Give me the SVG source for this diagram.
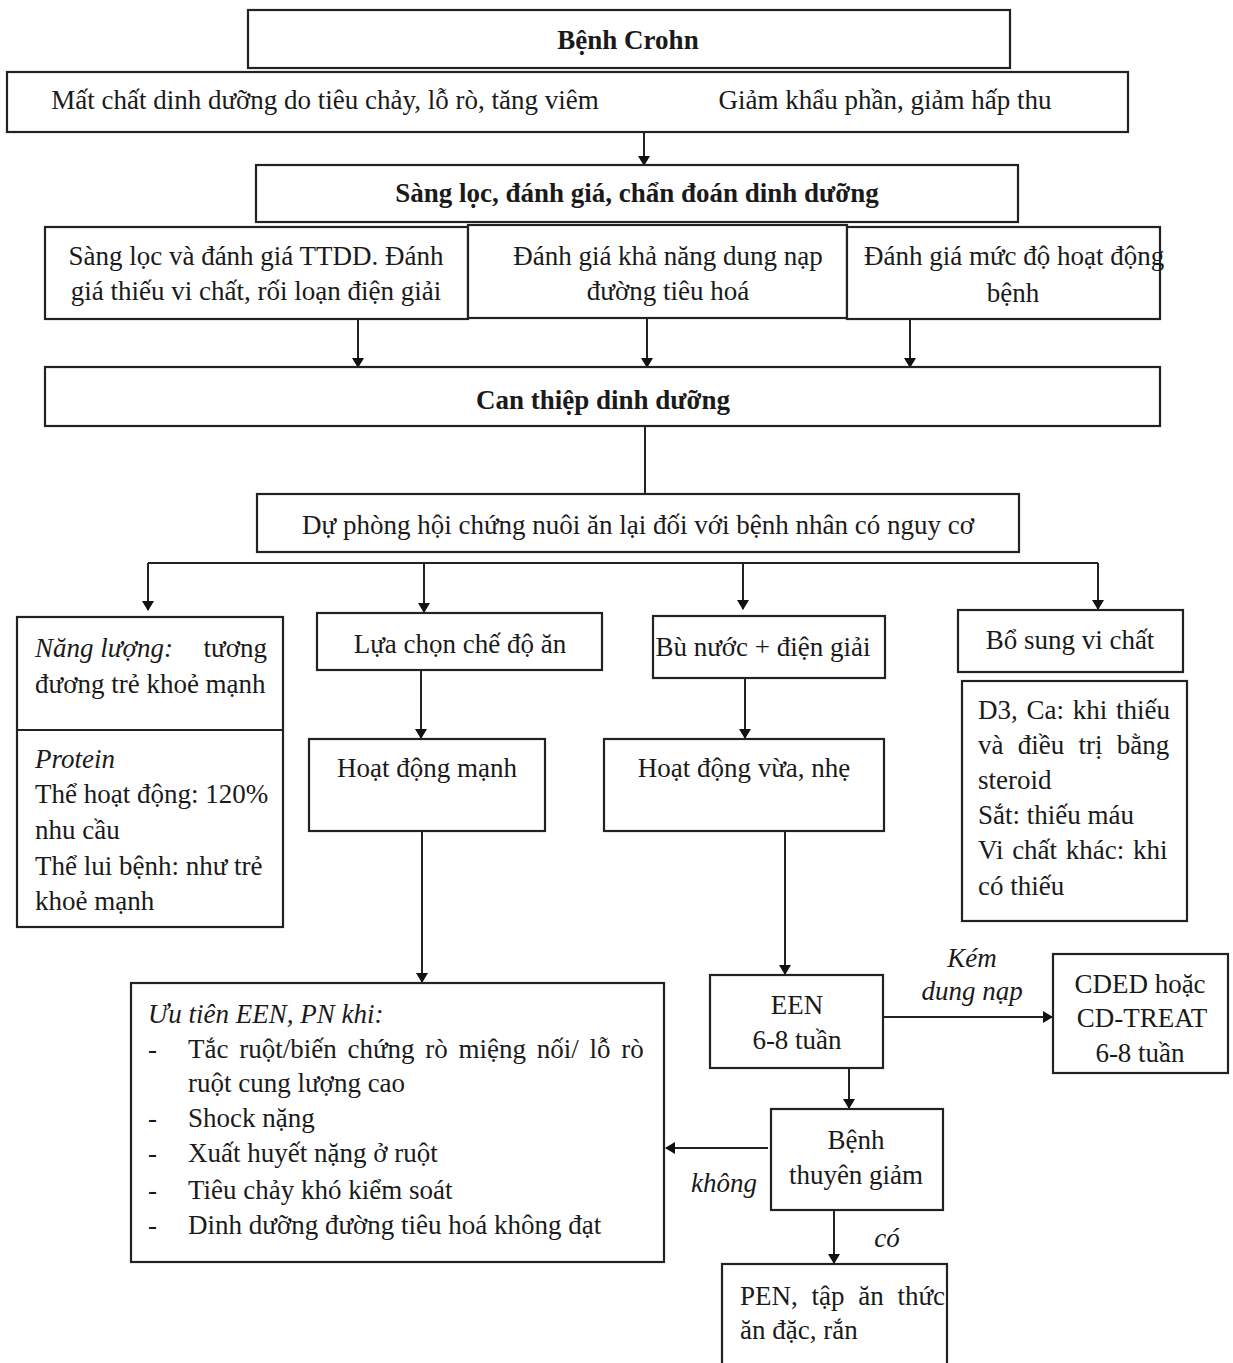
<svg xmlns="http://www.w3.org/2000/svg" width="1233" height="1363" viewBox="0 0 1233 1363">
<defs>
<marker id="arr" markerWidth="10" markerHeight="12" refX="9" refY="6" orient="auto" markerUnits="userSpaceOnUse">
<path d="M0,0 L10,6 L0,12 Z" fill="#111"/>
</marker>
<style>
.b{fill:#fff;stroke:#222;stroke-width:2.2}
.t{font-family:"Liberation Serif","Times New Roman",serif;font-size:27px;fill:#1a1a1a}
.c{text-anchor:middle}
.bd{font-weight:bold}
.i{font-style:italic}
.l{stroke:#222;stroke-width:2;fill:none}
.la{stroke:#222;stroke-width:2;fill:none;marker-end:url(#arr)}
</style>
</defs>
<rect width="1233" height="1363" fill="#fff"/>

<g id="connectors">
<line class="la" x1="644" y1="72" x2="644" y2="165"/>
<line class="la" x1="358" y1="320" x2="358" y2="367"/>
<line class="la" x1="647" y1="319" x2="647" y2="367"/>
<line class="la" x1="910" y1="320" x2="910" y2="367"/>
<line class="l" x1="645" y1="426" x2="645" y2="494"/>
<line class="l" x1="148" y1="563" x2="1098" y2="563"/>
<line class="la" x1="148" y1="563" x2="148" y2="610"/>
<line class="la" x1="424" y1="563" x2="424" y2="612"/>
<line class="la" x1="743" y1="563" x2="743" y2="609"/>
<line class="la" x1="1098" y1="563" x2="1098" y2="609"/>
<line class="la" x1="421" y1="670" x2="421" y2="738"/>
<line class="la" x1="745" y1="678" x2="745" y2="738"/>
<line class="la" x1="422" y1="831" x2="422" y2="982"/>
<line class="la" x1="785" y1="831" x2="785" y2="974"/>
<line class="la" x1="884" y1="1017" x2="1052" y2="1017"/>
<line class="la" x1="849" y1="1068" x2="849" y2="1108"/>
<line class="la" x1="768" y1="1148" x2="666" y2="1148"/>
<line class="la" x1="834" y1="1210" x2="834" y2="1263"/>
<text class="t i c" x="972" y="967" font-size="23">Kém</text>
<text class="t i c" x="972" y="1000" font-size="23">dung nạp</text>
<text class="t i c" x="724" y="1192" font-size="23">không</text>
<text class="t i c" x="887" y="1247" font-size="23">có</text>
</g>

<g id="n-crohn">
<rect class="b" x="248" y="10" width="762" height="58"/>
<text class="t c bd" x="628" y="49">Bệnh Crohn</text>
</g>

<g id="n-causes">
<rect class="b" x="7" y="72" width="1121" height="60"/>
<text class="t c" x="325" y="109">Mất chất dinh dưỡng do tiêu chảy, lỗ rò, tăng viêm</text>
<text class="t c" x="885" y="109">Giảm khẩu phần, giảm hấp thu</text>
</g>

<g id="n-screen">
<rect class="b" x="256" y="165" width="762" height="57"/>
<text class="t c bd" x="637" y="202">Sàng lọc, đánh giá, chẩn đoán dinh dưỡng</text>
</g>

<g id="n-screen1">
<rect class="b" x="45" y="227" width="423" height="92"/>
<text class="t c" x="256" y="265">Sàng lọc và đánh giá TTDD. Đánh</text>
<text class="t c" x="256" y="300">giá thiếu vi chất, rối loạn điện giải</text>
</g>

<g id="n-screen2">
<rect class="b" x="468" y="225" width="379" height="93"/>
<text class="t c" x="668" y="265">Đánh giá khả năng dung nạp</text>
<text class="t c" x="668" y="300">đường tiêu hoá</text>
</g>

<g id="n-screen3">
<rect class="b" x="847" y="227" width="313" height="92"/>
<text class="t" x="864" y="265">Đánh giá mức độ hoạt động</text>
<text class="t c" x="1013" y="302">bệnh</text>
</g>

<g id="n-intervene">
<rect class="b" x="45" y="367" width="1115" height="59"/>
<text class="t c bd" x="603" y="409">Can thiệp dinh dưỡng</text>
</g>

<g id="n-refeed">
<rect class="b" x="257" y="494" width="762" height="58"/>
<text class="t c" x="638" y="534">Dự phòng hội chứng nuôi ăn lại đối với bệnh nhân có nguy cơ</text>
</g>

<g id="n-energy">
<rect class="b" x="17" y="617" width="266" height="310"/>
<line class="l" x1="17" y1="730" x2="283" y2="730"/>
<text class="t i" x="35" y="657">Năng lượng:</text>
<text class="t" x="267" y="657" text-anchor="end">tương</text>
<text class="t" x="35" y="693">đương trẻ khoẻ mạnh</text>
<text class="t i" x="35" y="768" font-size="24">Protein</text>
<text class="t" x="35" y="803">Thể hoạt động: 120%</text>
<text class="t" x="35" y="839">nhu cầu</text>
<text class="t" x="35" y="875">Thể lui bệnh: như trẻ</text>
<text class="t" x="35" y="910">khoẻ mạnh</text>
</g>

<g id="n-diet">
<rect class="b" x="317" y="613" width="285" height="57"/>
<text class="t c" x="460" y="653">Lựa chọn chế độ ăn</text>
</g>

<g id="n-strong">
<rect class="b" x="309" y="739" width="236" height="92"/>
<text class="t c" x="427" y="777">Hoạt động mạnh</text>
</g>

<g id="n-fluid">
<rect class="b" x="653" y="616" width="232" height="62"/>
<text class="t c" x="763" y="656">Bù nước + điện giải</text>
</g>

<g id="n-mild">
<rect class="b" x="604" y="739" width="280" height="92"/>
<text class="t c" x="744" y="777">Hoạt động vừa, nhẹ</text>
</g>

<g id="n-micro">
<rect class="b" x="958" y="610" width="225" height="62"/>
<text class="t c" x="1070" y="649">Bổ sung vi chất</text>
</g>

<g id="n-micro-detail">
<rect class="b" x="962" y="681" width="225" height="240"/>
<text class="t" x="978" y="719" word-spacing="2">D3, Ca: khi thiếu</text>
<text class="t" x="978" y="754" word-spacing="7.5">và điều trị bằng</text>
<text class="t" x="978" y="789">steroid</text>
<text class="t" x="978" y="824">Sắt: thiếu máu</text>
<text class="t" x="978" y="859" word-spacing="2">Vi chất khác: khi</text>
<text class="t" x="978" y="895">có thiếu</text>
</g>

<g id="n-een">
<rect class="b" x="710" y="975" width="173" height="93"/>
<text class="t c" x="797" y="1014">EEN</text>
<text class="t c" x="797" y="1049">6-8 tuần</text>
</g>

<g id="n-cded">
<rect class="b" x="1053" y="954" width="175" height="119"/>
<text class="t c" x="1140" y="993">CDED hoặc</text>
<text class="t c" x="1142" y="1027">CD-TREAT</text>
<text class="t c" x="1140" y="1062">6-8 tuần</text>
</g>

<g id="n-remission">
<rect class="b" x="771" y="1109" width="172" height="101"/>
<text class="t c" x="856" y="1149">Bệnh</text>
<text class="t c" x="856" y="1184">thuyên giảm</text>
</g>

<g id="n-pn">
<rect class="b" x="131" y="983" width="533" height="279"/>
<text class="t i" x="148" y="1023">Ưu tiên EEN, PN khi:</text>
<text class="t" x="148" y="1058">-</text>
<text class="t" x="188" y="1058" word-spacing="4">Tắc ruột/biến chứng rò miệng nối/ lỗ rò</text>
<text class="t" x="188" y="1092">ruột cung lượng cao</text>
<text class="t" x="148" y="1127">-</text>
<text class="t" x="188" y="1127">Shock nặng</text>
<text class="t" x="148" y="1162">-</text>
<text class="t" x="188" y="1162">Xuất huyết nặng ở ruột</text>
<text class="t" x="148" y="1199">-</text>
<text class="t" x="188" y="1199">Tiêu chảy khó kiểm soát</text>
<text class="t" x="148" y="1234">-</text>
<text class="t" x="188" y="1234">Dinh dưỡng đường tiêu hoá không đạt</text>
</g>

<g id="n-pen">
<rect class="b" x="722" y="1264" width="225" height="110"/>
<text class="t" x="740" y="1305" word-spacing="7">PEN, tập ăn thức</text>
<text class="t" x="740" y="1339">ăn đặc, rắn</text>
</g>
</svg>
